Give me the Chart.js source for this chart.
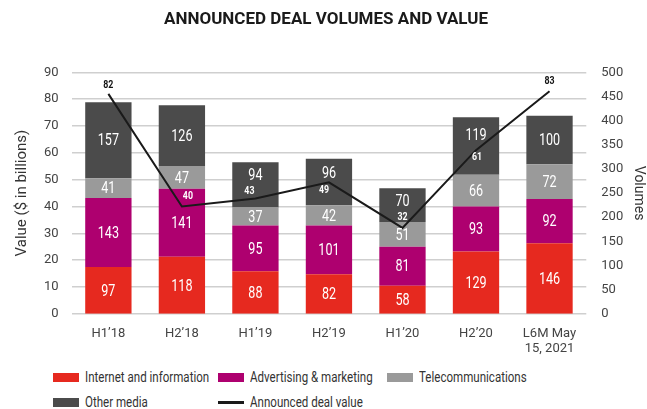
<!DOCTYPE html>
<html>
<head>
<meta charset="utf-8">
<script src="https://cdn.jsdelivr.net/npm/chart.js@4"></script>
<style>
  body { margin: 0; background: #fff; font-family: Roboto, sans-serif; }
  #wrap { position: relative; width: 647px; height: 361px; }
  #legend { position: absolute; top: 368px; left: 53px; display: grid; grid-template-columns: 165px 169px 240px; row-gap: 7px; font-size: 15px; color: #333; }
  .item { display: flex; align-items: center; white-space: nowrap; height: 18px; }
  .item span.txt { display: inline-block; transform: scaleX(0.77); transform-origin: left center; }
  .box { flex: 0 0 26px; height: 9px; margin-right: 6px; }
  .line { flex: 0 0 26px; height: 3px; margin-right: 6px; }
</style>
</head>
<body>
<div id="wrap"><canvas id="chart"></canvas></div>
<div id="legend"></div>
<script>
// Categories
const periods = ['H1\u201918', 'H2\u201918', 'H1\u201919', 'H2\u201919', 'H1\u201920', 'H2\u201920', ['L6M May', '15, 2021']];

// Deal volumes by segment (stacked, right axis)
const internetInfo = [97, 118, 88, 82, 58, 129, 146];
const advertising = [143, 141, 95, 101, 81, 93, 92];
const telecom = [41, 47, 37, 42, 51, 66, 72];
const otherMedia = [157, 126, 94, 96, 70, 119, 100];

// Announced deal value, $ billions (left axis)
const dealValue = [82, 40, 43, 49, 32, 61, 83];

// Axis ticks
const valueTicks = [0, 90, 10];
const volumeTicks = [0, 500, 50];

const FONT = "Roboto, sans-serif";
const COLORS = {
    internet: '#e6291f',
    advertising: '#ae006f',
    telecom: '#9a9a9a',
    other: '#4b4b4b',
    line: '#1a1a1a'
};
// nudge of each value label from its point, px
const labelNudge = [[0, -9], [6, -10], [-6, -7], [-5, 8], [0, -11], [1, 7], [0, -10]];

function lineLabelY(chart, j) {
    const meta = chart.getDatasetMeta(4);
    return meta.data[j].y + labelNudge[j][1];
}

// narrow text, the original uses a condensed face
function drawNarrow(ctx, text, x, y, sx) {
    ctx.save();
    ctx.translate(x, y);
    ctx.scale(sx, 1);
    ctx.fillText(text, 0, 0);
    ctx.restore();
}

// White count labels inside each bar segment
const barLabels = {
    id: 'barLabels',
    afterDatasetsDraw(chart) {
        const ctx = chart.ctx;
        ctx.save();
        ctx.font = '17px ' + FONT;
        ctx.fillStyle = '#fff';
        ctx.textAlign = 'center';
        ctx.textBaseline = 'middle';
        chart.data.datasets.forEach((ds, i) => {
            if (ds.type === 'line') return;
            chart.getDatasetMeta(i).data.forEach((bar, j) => {
                let mid = (bar.y + bar.base) / 2;
                // make room when the value label falls in this segment
                const ly = lineLabelY(chart, j);
                if (i === 3 && ly > bar.y && ly < bar.base) mid = (bar.y + ly) / 2 - 2;
                drawNarrow(ctx, ds.data[j], bar.x, mid + 1, 0.74);
            });
        });
        ctx.restore();
    }
};

// Small bold labels on the deal value line
const lineLabels = {
    id: 'lineLabels',
    afterDraw(chart) {
        const ctx = chart.ctx;
        const top = chart.getDatasetMeta(3).data;
        ctx.save();
        ctx.font = 'bold 11px ' + FONT;
        ctx.textAlign = 'center';
        ctx.textBaseline = 'middle';
        chart.getDatasetMeta(4).data.forEach((pt, j) => {
            const y = lineLabelY(chart, j);
            ctx.fillStyle = y > top[j].y ? '#fff' : '#111';
            drawNarrow(ctx, dealValue[j], pt.x + labelNudge[j][0], y, 0.8);
        });
        ctx.restore();
    }
};

const ctx = document.getElementById('chart').getContext('2d');
new Chart(ctx, {
    data: {
        labels: periods,
        datasets: [
            { type: 'bar', label: 'Internet and information', data: internetInfo, backgroundColor: COLORS.internet, yAxisID: 'yVol', stack: 's', order: 2 },
            { type: 'bar', label: 'Advertising & marketing', data: advertising, backgroundColor: COLORS.advertising, yAxisID: 'yVol', stack: 's', order: 2 },
            { type: 'bar', label: 'Telecommunications', data: telecom, backgroundColor: COLORS.telecom, yAxisID: 'yVol', stack: 's', order: 2 },
            { type: 'bar', label: 'Other media', data: otherMedia, backgroundColor: COLORS.other, yAxisID: 'yVol', stack: 's', order: 2 },
            { type: 'line', label: 'Announced deal value', data: dealValue, borderColor: COLORS.line, borderWidth: 2, pointRadius: 0, tension: 0, yAxisID: 'yVal', order: 1 }
        ]
    },
    options: {
        responsive: true,
        maintainAspectRatio: false,
        animation: false,
        datasets: { bar: { barPercentage: 0.63, categoryPercentage: 1 } },
        layout: { padding: { left: 5, right: 0, top: 0, bottom: 0 } },
        plugins: {
            legend: { display: false },
            tooltip: { enabled: false },
            title: {
                display: true,
                text: 'ANNOUNCED DEAL VOLUMES AND VALUE',
                color: '#1a1a1a',
                font: { family: FONT, size: 17, weight: 'bold' },
                padding: { top: 10, bottom: 42 }
            }
        },
        scales: {
            x: {
                grid: { display: false },
                border: { display: false },
                ticks: { color: '#444', font: { family: FONT, size: 13 }, maxRotation: 0, padding: 4 }
            },
            yVal: {
                position: 'left',
                min: valueTicks[0], max: valueTicks[1],
                ticks: { stepSize: valueTicks[2], color: '#444', font: { family: FONT, size: 13 }, padding: 13 },
                grid: { color: '#cfcfcf', lineWidth: 1.5, drawTicks: false },
                border: { display: false },
                title: { display: true, text: 'Value ($ in billions)', color: '#333', font: { family: FONT, size: 15 }, padding: { top: 8, bottom: 0 } }
            },
            yVol: {
                position: 'right',
                min: volumeTicks[0], max: volumeTicks[1],
                ticks: { stepSize: volumeTicks[2], color: '#444', font: { family: FONT, size: 13 }, padding: 7 },
                grid: { display: false },
                border: { display: false },
                title: { display: true, text: 'Volumes', color: '#333', font: { family: FONT, size: 14 }, padding: { top: 0, bottom: 0 } }
            }
        }
    },
    plugins: [barLabels, lineLabels]
});

// HTML legend laid out in columns
const legendItems = [
    ['Internet and information', COLORS.internet, 'box'],
    ['Advertising & marketing', COLORS.advertising, 'box'],
    ['Telecommunications', COLORS.telecom, 'box'],
    ['Other media', COLORS.other, 'box'],
    ['Announced deal value', COLORS.line, 'line']
];
const legendEl = document.getElementById('legend');
legendItems.forEach(([text, color, kind]) => {
    const item = document.createElement('div');
    item.className = 'item';
    const sw = document.createElement('span');
    sw.className = kind;
    sw.style.background = color;
    const txt = document.createElement('span');
    txt.className = 'txt';
    txt.textContent = text;
    item.appendChild(sw);
    item.appendChild(txt);
    legendEl.appendChild(item);
});
</script>
</body>
</html>
